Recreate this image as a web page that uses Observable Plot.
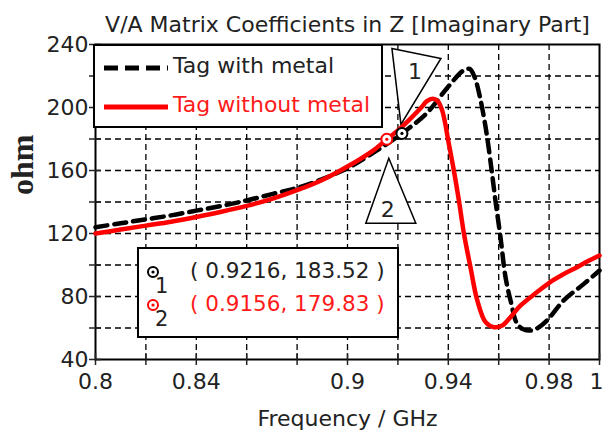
<!DOCTYPE html>
<html>
<head>
<meta charset="utf-8">
<script src="https://cdn.jsdelivr.net/npm/d3@7"></script>
<script src="https://cdn.jsdelivr.net/npm/@observablehq/plot@0.6"></script>
<style>
  body { margin: 0; background: #fff; }
  #wrap { position: relative; width: 603px; height: 439px; font-family: "DejaVu Sans", Verdana, sans-serif; color: #222; }
  .box { position: absolute; box-sizing: border-box; border: 2px solid #000; background: #fff; }
  .abs { position: absolute; white-space: nowrap; line-height: 1; }
</style>
</head>
<body>
<div id="wrap"></div>
<script>
// ---- data ----
const title = "V/A Matrix Coefficients in Z [Imaginary Part]";
const xLabel = "Frequency / GHz";
const yLabel = "ohm";
const seriesNames = ["Tag with metal", "Tag without metal"];
const seriesColors = ["#000000", "#ff0000"];

const freqMetal = [0.8, 0.81, 0.82, 0.83, 0.84, 0.85, 0.86, 0.87, 0.88, 0.89, 0.9, 0.91, 0.9216, 0.9317, 0.9397, 0.946, 0.9485, 0.9505, 0.9525, 0.9548, 0.9567, 0.9587, 0.9607, 0.9627, 0.9647, 0.9673, 0.97, 0.9726, 0.9755, 0.9792, 0.9858, 0.9938, 1.0];
const zMetal    = [124, 126.5, 129, 131.5, 134.5, 137.5, 141, 145, 149, 154.5, 161.5, 171, 183.52, 196.8, 212.7, 223.5, 224.5, 219, 207, 187.5, 166.3, 141, 117.7, 92.3, 77.5, 62.7, 59, 58.4, 60, 64.8, 77.5, 88, 96.5];

const freqFree = [0.8, 0.81, 0.82, 0.83, 0.84, 0.85, 0.86, 0.87, 0.88, 0.89, 0.9, 0.91, 0.9156, 0.92, 0.925, 0.929, 0.9315, 0.9338, 0.9358, 0.9376, 0.9402, 0.9422, 0.9442, 0.9462, 0.9488, 0.9515, 0.9548, 0.9581, 0.9614, 0.965, 0.9687, 0.975, 0.9803, 0.9855, 0.9911, 0.9955, 1.0];
const zFree    = [120, 122.5, 125, 127.5, 130.5, 133.8, 137.5, 142, 147.5, 154, 162.5, 172.5, 179.83, 185.5, 193, 199.5, 204, 205.5, 204, 198, 177, 160, 141, 120, 98.6, 77.5, 63.7, 60.5, 61.6, 67.5, 74.3, 82.5, 89, 94, 98.6, 102.5, 106];

const markerIds   = ["1", "2"];
const markerFreq  = [0.9216, 0.9156];
const markerZ     = [183.52, 179.83];
const markerColor = ["#000000", "#ff0000"];

const xTickMarks  = [0.8, 0.82, 0.84, 0.86, 0.88, 0.9, 0.92, 0.94, 0.96, 0.98, 1.0];
const xTickLabels = [0.8, 0.84, 0.9, 0.94, 0.98, 1];
const yTickMarks  = [40, 60, 80, 100, 120, 140, 160, 180, 200, 220, 240];
const yTickLabels = [40, 80, 120, 160, 200, 240];

// ---- build tables ----
const metal = freqMetal.map((f, i) => ({f, z: zMetal[i]}));
const free  = freqFree.map((f, i) => ({f, z: zFree[i]}));
const markers = markerIds.map((id, i) => ({id, f: markerFreq[i], z: markerZ[i], color: markerColor[i]}));

// callout triangles (pixel offsets relative to the marker point)
const tri1 = {draw(ctx) { ctx.moveTo(-10, -85); ctx.lineTo(39, -75); ctx.lineTo(-1, -9); ctx.closePath(); }};
const tri2 = {draw(ctx) { ctx.moveTo(2, 19); ctx.lineTo(29, 84); ctx.lineTo(-21, 84); ctx.closePath(); }};

const font = '"DejaVu Sans", Verdana, sans-serif';
const gridStyle = {stroke: "#000", strokeOpacity: 1, strokeWidth: 1.3, strokeDasharray: "6,4"};
const lastLabel = xTickLabels[xTickLabels.length - 1];

const chart = Plot.plot({
  width: 603,
  height: 439,
  marginLeft: 95,
  marginRight: 4,
  marginTop: 44,
  marginBottom: 80,
  x: {domain: [0.8, 1]},
  y: {domain: [40, 240]},
  style: {fontFamily: font, fontSize: "22px", color: "#222", background: "#fff", overflow: "visible"},
  marks: [
    Plot.gridX(xTickMarks.slice(1, -1), gridStyle),
    Plot.gridY(yTickMarks.slice(1, -1), gridStyle),
    Plot.frame({stroke: "#000", strokeWidth: 2}),
    Plot.axisX(xTickMarks, {tickSize: 12, dy: -6, text: null, strokeWidth: 1.5, label: null}),
    Plot.axisY(yTickMarks, {tickSize: 12, dx: 6, text: null, strokeWidth: 1.5, label: null}),
    Plot.axisX(xTickLabels.slice(0, -1), {tickSize: 0, tickPadding: 14, tickFormat: d => String(d), label: null, fontSize: 22, fill: "#222"}),
    Plot.axisX([lastLabel], {tickSize: 0, tickPadding: 14, tickFormat: d => String(d), label: null, fontSize: 22, fill: "#222", textAnchor: "end", dx: 4}),
    Plot.axisY(yTickLabels, {tickSize: 0, tickPadding: 7, tickFormat: d => String(d), label: null, fontSize: 22, fill: "#222"}),
    Plot.text([title], {frameAnchor: "top", dy: -28, text: d => d, fontSize: 22, fill: "#222"}),
    Plot.text([xLabel], {frameAnchor: "bottom", dy: 66, text: d => d, fontSize: 22, fill: "#222"}),
    Plot.text([yLabel], {frameAnchor: "left", dx: -73, dy: -7, rotate: -90, text: d => d, fontSize: 32, fontWeight: "bold", fontFamily: '"Liberation Serif", "Times New Roman", serif', fill: "#222"}),
    // callout triangles
    Plot.dot(markers.filter(d => d.id === "1"), {x: "f", y: "z", symbol: tri1, r: 5, fill: "#fff", stroke: "#000", strokeWidth: 1.5}),
    Plot.dot(markers.filter(d => d.id === "2"), {x: "f", y: "z", symbol: tri2, r: 5, fill: "#fff", stroke: "#000", strokeWidth: 1.5}),
    Plot.text(markers.filter(d => d.id === "1"), {x: "f", y: "z", text: "id", dx: 13, dy: -62, fontSize: 22, fill: "#222"}),
    Plot.text(markers.filter(d => d.id === "2"), {x: "f", y: "z", text: "id", dx: 1, dy: 71, fontSize: 22, fill: "#222"}),
    // curves
    Plot.line(metal, {x: "f", y: "z", stroke: seriesColors[0], strokeWidth: 4.5, strokeDasharray: "12,7", curve: "catmull-rom"}),
    Plot.line(free, {x: "f", y: "z", stroke: seriesColors[1], strokeWidth: 4.5, curve: "catmull-rom"}),
    // markers
    Plot.dot(markers, {x: "f", y: "z", r: 5.5, fill: "#fff", stroke: "color", strokeWidth: 2}),
    Plot.dot(markers, {x: "f", y: "z", r: 1.6, fill: "color"})
  ]
});

const wrap = document.getElementById("wrap");
wrap.appendChild(chart);

// ---- legend box (top-left) ----
function el(tag, cls, css, txt) {
  const e = document.createElement(tag);
  if (cls) e.className = cls;
  Object.assign(e.style, css);
  if (txt != null) e.textContent = txt;
  return e;
}
function lineSample(color, dash) {
  const ns = "http://www.w3.org/2000/svg";
  const s = document.createElementNS(ns, "svg");
  s.setAttribute("width", 66); s.setAttribute("height", 10);
  const l = document.createElementNS(ns, "line");
  l.setAttribute("x1", 1); l.setAttribute("x2", 65); l.setAttribute("y1", 5); l.setAttribute("y2", 5);
  l.setAttribute("stroke", color); l.setAttribute("stroke-width", 5);
  if (dash) l.setAttribute("stroke-dasharray", dash);
  s.appendChild(l);
  return s;
}
const legend = el("div", "box", {left: "93px", top: "44px", width: "290px", height: "84px"});
const rowsY = [24, 63];
seriesNames.forEach((name, i) => {
  const sample = lineSample(seriesColors[i], i === 0 ? "14,7" : null);
  Object.assign(sample.style, {position: "absolute", left: "8px", top: (rowsY[i] - 2 - 5) + "px"});
  legend.appendChild(sample);
  legend.appendChild(el("div", "abs", {left: "78px", top: (rowsY[i] - 2 - 13) + "px", fontSize: "22px", color: i === 0 ? "#222" : "#ff1a1a"}, name));
});
wrap.appendChild(legend);

// ---- marker readout box ----
const readout = el("div", "box", {left: "137px", top: "247px", width: "262px", height: "91px"});
const readY = [25, 58];
markers.forEach((m, i) => {
  const ns = "http://www.w3.org/2000/svg";
  const s = document.createElementNS(ns, "svg");
  s.setAttribute("width", 14); s.setAttribute("height", 14);
  const c1 = document.createElementNS(ns, "circle");
  c1.setAttribute("cx", 7); c1.setAttribute("cy", 7); c1.setAttribute("r", 5);
  c1.setAttribute("fill", "#fff"); c1.setAttribute("stroke", m.color); c1.setAttribute("stroke-width", 2);
  const c2 = document.createElementNS(ns, "circle");
  c2.setAttribute("cx", 7); c2.setAttribute("cy", 7); c2.setAttribute("r", 1.6); c2.setAttribute("fill", m.color);
  s.appendChild(c1); s.appendChild(c2);
  Object.assign(s.style, {position: "absolute", left: (16 - 2 - 7) + "px", top: (readY[i] - 2 - 7) + "px"});
  readout.appendChild(s);
  readout.appendChild(el("div", "abs", {left: (24 - 2 - 6) + "px", top: (readY[i] + 15 - 2 - 11) + "px", fontSize: "21px", color: "#222"}, m.id));
  readout.appendChild(el("div", "abs", {left: (53 - 2) + "px", top: (readY[i] - 2 - 12) + "px", fontSize: "21.5px", color: i === 0 ? "#222" : "#ff1a1a"},
    `( ${m.f.toFixed(4)}, ${m.z.toFixed(2)} )`));
});
wrap.appendChild(readout);
</script>
</body>
</html>
